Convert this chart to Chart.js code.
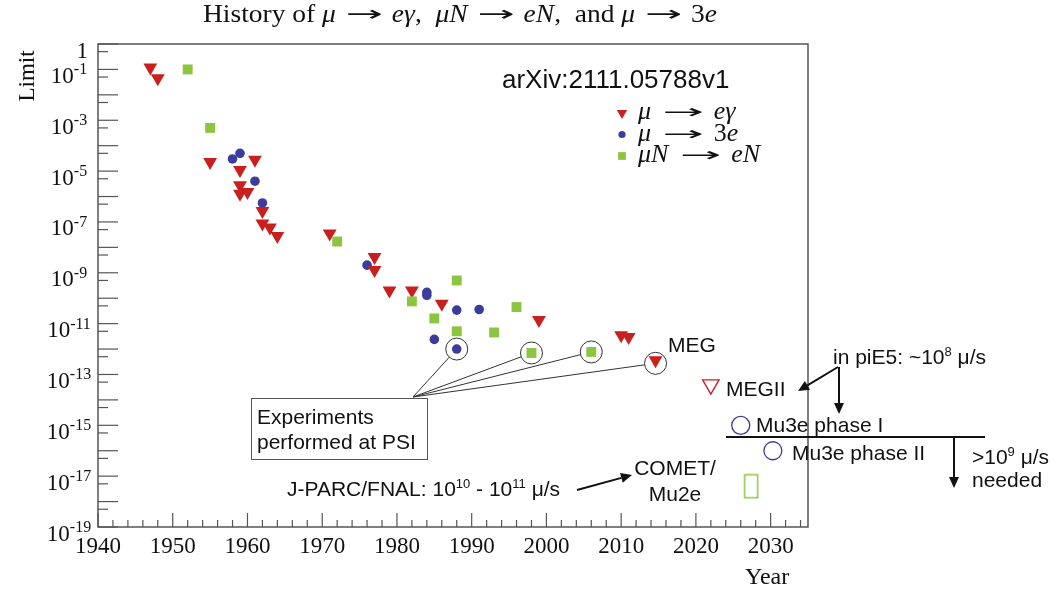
<!DOCTYPE html>
<html lang="en">
<head>
<meta charset="UTF-8">
<title>History of CLFV limits</title>
<style>
  html, body { margin: 0; padding: 0; background: #fff; }
  #wrap { width: 1054px; height: 591px; position: relative; }
</style>
</head>
<body>
<div id="wrap"><canvas id="chart"></canvas></div>

<script src="https://cdn.jsdelivr.net/npm/chart.js"></script>
<script>
// values: year and upper limit
const megYears  = [1947, 1948, 1955, 1959, 1961, 1959, 1959, 1960, 1962, 1962, 1963, 1964, 1971, 1977, 1977, 1979, 1982, 1986, 1999, 2010, 2011, 2014.6];
const megLimits = [0.12, 0.045, 2.3e-5, 1.1e-5, 2.8e-5, 2.8e-6, 1.3e-6, 1.5e-6, 2.7e-7, 8.7e-8, 6e-8, 2.8e-8, 3.5e-8, 4.2e-9, 1.3e-9, 2e-10, 2e-10, 6e-11, 1.4e-11, 3.5e-12, 3e-12, 3.6e-13];

const m3eYears  = [1958, 1959, 1961, 1962, 1976, 1984, 1984, 1985, 1988, 1991, 1988];
const m3eLimits = [3e-5, 5e-5, 4e-6, 5.6e-7, 2e-9, 1.7e-10, 1.3e-10, 2.4e-12, 3.4e-11, 3.6e-11, 1e-12];

const convYears  = [1952, 1955, 1972, 1982, 1985, 1988, 1988, 1993, 1996, 1998, 2006];
const convLimits = [0.1, 5e-4, 1.7e-8, 7.5e-11, 1.6e-11, 5e-10, 5e-12, 4.5e-12, 4.5e-11, 7e-13, 7.7e-13];

// projected sensitivities
const megiiYears = [2022],         megiiLimits = [4e-14];
const mu3eYears  = [2026, 2030.3], mu3eLimits  = [1e-15, 1e-16];
const cometYears = [2027.4],       cometLimits = [4e-18];

// PSI results that get a circle: [dataset, point]
const psiPoints = [[1, 10], [2, 9], [2, 10], [0, 21]];

const xTickYears = [1940, 1950, 1960, 1970, 1980, 1990, 2000, 2010, 2020, 2030];
const yTickExps  = [0, -1, -3, -5, -7, -9, -11, -13, -15, -17, -19];

const RED = '#c8201f', BLUE = '#3c3c9c', GREEN = '#8cc540';
const SANS = '"Liberation Sans", Arial, sans-serif';
const SERIF = '"Liberation Serif", "Times New Roman", serif';
const ARROW = '"DejaVu Sans", sans-serif';

const pts = (xs, ys) => xs.map((x, i) => ({ x: x, y: ys[i] }));

// tall open rectangle for COMET/Mu2e
const cometMark = document.createElement('canvas');
cometMark.width = 16; cometMark.height = 26;
const cm = cometMark.getContext('2d');
cm.strokeStyle = GREEN; cm.lineWidth = 1.5;
cm.strokeRect(1.5, 1.5, 13, 23);

// text made of pieces: [text, font, dy, stretch]
function partW(ctx, p) {
  ctx.font = p[1];
  return ctx.measureText(p[0]).width * (p[3] || 1);
}
function rich(ctx, parts, x, y, align) {
  let w = 0;
  parts.forEach(p => { w += partW(ctx, p); });
  let cx = align === 'right' ? x - w : align === 'center' ? x - w / 2 : x;
  ctx.textAlign = 'left';
  ctx.textBaseline = 'alphabetic';
  parts.forEach(p => {
    const pw = partW(ctx, p);
    ctx.save();
    ctx.translate(cx, y + (p[2] || 0));
    ctx.scale(p[3] || 1, 1);
    ctx.fillText(p[0], 0, 0);
    ctx.restore();
    cx += pw;
  });
  return w;
}
// math arrow " → " with TeX-like width
function mathArrow(size, gap, len) {
  return [[' ', size + 'px ' + SERIF, 0, gap], ['→', (size - 3) + 'px ' + ARROW, -1, len], [' ', size + 'px ' + SERIF, 0, gap * 0.85]];
}

function line(ctx, x1, y1, x2, y2) {
  ctx.beginPath(); ctx.moveTo(x1, y1); ctx.lineTo(x2, y2); ctx.stroke();
}

function arrow(ctx, x1, y1, x2, y2) {
  const ang = Math.atan2(y2 - y1, x2 - x1), hl = 11, hw = 5;
  const bx = x2 - Math.cos(ang) * hl, by = y2 - Math.sin(ang) * hl;
  ctx.lineWidth = 2;
  line(ctx, x1, y1, bx, by);
  ctx.beginPath();
  ctx.moveTo(x2, y2);
  ctx.lineTo(bx + Math.sin(ang) * hw, by - Math.cos(ang) * hw);
  ctx.lineTo(bx - Math.sin(ang) * hw, by + Math.cos(ang) * hw);
  ctx.closePath();
  ctx.fill();
}

const decor = {
  id: 'decor',
  beforeDatasetsDraw(chart) {
    const { ctx, chartArea: a } = chart;
    const xs = chart.scales.x, ys = chart.scales.y;
    ctx.save();
    ctx.strokeStyle = '#555';
    ctx.lineWidth = 1.5;
    ctx.strokeRect(a.left, a.top, a.right - a.left, a.bottom - a.top);

    // y ticks, inside the frame
    ctx.lineWidth = 1.2;
    for (let e = 0; e >= -19; e--) {
      const py = ys.getPixelForValue(Number('1e' + e));
      line(ctx, a.left, py, a.left + 20, py);
      if (e > -19) {
        const q = ys.getPixelForValue(5 * Number('1e' + (e - 1)));
        line(ctx, a.left, q, a.left + 10, q);
      }
    }
    // x ticks
    for (let yr = 1940; yr <= 2034; yr += 2) {
      const px = xs.getPixelForValue(yr);
      line(ctx, px, a.bottom, px, a.bottom - (yr % 10 === 0 ? 14 : 7));
    }

    ctx.fillStyle = '#111';
    yTickExps.forEach(e => {
      const py = ys.getPixelForValue(Number('1e' + e));
      if (e === 0) rich(ctx, [['1', '23px ' + SERIF]], 88, py + 13.5, 'right');
      else rich(ctx, [['10', '23px ' + SERIF], [String(e), '16px ' + SERIF, -8.5]], 69, py + 13.5, 'center');
    });
    ctx.font = '23px ' + SERIF;
    ctx.textAlign = 'center';
    xTickYears.forEach(yr => ctx.fillText(String(yr), xs.getPixelForValue(yr), 553));

    // axis titles
    ctx.font = '24px ' + SERIF;
    ctx.textAlign = 'left';
    ctx.fillText('Year', 745, 584);
    ctx.save();
    ctx.translate(34, 76);
    ctx.rotate(-Math.PI / 2);
    ctx.textAlign = 'center';
    ctx.font = '23px ' + SERIF;
    ctx.fillText('Limit', 0, 0);
    ctx.restore();

    // title, squeezed like the LaTeX original
    const it = 'italic 26px ' + SERIF, rm = '26px ' + SERIF;
    const title = [['History of ', rm], ['μ', it], ...mathArrow(24, 1.6, 2), ['eγ', it], [',  ', rm], ['μN', it], ...mathArrow(24, 1.6, 2),
                   ['eN', it], [',  and ', rm], ['μ', it], ...mathArrow(24, 1.6, 2), ['3', rm], ['e', it]];
    let tw = 0;
    title.forEach(p => { tw += partW(ctx, p); });
    ctx.save();
    ctx.translate(460, 22);
    ctx.scale(514 / tw, 1);
    rich(ctx, title, 0, 0, 'center');
    ctx.restore();
    ctx.restore();
  },
  afterDatasetsDraw(chart) {
    const ctx = chart.ctx;
    ctx.save();

    // circles around PSI results and lines to the box
    const ax = 413, ay = 397;
    ctx.strokeStyle = '#333';
    ctx.lineWidth = 1;
    psiPoints.forEach(([d, i]) => {
      const el = chart.getDatasetMeta(d).data[i];
      const cy = el.y + (d === 0 ? 3 : 0);
      ctx.beginPath(); ctx.arc(el.x, cy, 11, 0, Math.PI * 2); ctx.stroke();
      const dx = ax - el.x, dy = ay - cy, n = Math.hypot(dx, dy);
      line(ctx, el.x + dx / n * 11, cy + dy / n * 11, ax, ay);
    });
    ctx.fillStyle = '#fff';
    ctx.strokeStyle = '#555';
    ctx.fillRect(251, 398, 176, 61);
    ctx.strokeRect(251.5, 398.5, 176, 61);

    const f = '21px ' + SANS, fs = '13px ' + SANS;
    ctx.fillStyle = '#111';
    rich(ctx, [['Experiments', f]], 257, 424, 'left');
    rich(ctx, [['performed at PSI', f]], 257, 449, 'left');
    rich(ctx, [['MEG', f]], 668, 352, 'left');
    rich(ctx, [['MEGII', f]], 726, 396, 'left');
    rich(ctx, [['in piE5: ~10', f], ['8', fs, -8], [' μ/s', f]], 833, 364, 'left');
    rich(ctx, [['Mu3e phase I', f]], 756, 432, 'left');
    rich(ctx, [['Mu3e phase II', f]], 792, 460, 'left');
    rich(ctx, [['>10', f], ['9', fs, -8], [' μ/s', f]], 972, 464, 'left');
    rich(ctx, [['needed', f]], 972, 487, 'left');
    rich(ctx, [['COMET/', f]], 675, 475, 'center');
    rich(ctx, [['Mu2e', f]], 675, 501, 'center');
    rich(ctx, [['J-PARC/FNAL: 10', f], ['10', fs, -8], [' - 10', f], ['11', fs, -8], [' μ/s', f]], 287, 496, 'left');
    rich(ctx, [['arXiv:2111.05788v1', '26px ' + SANS]], 502, 88, 'left');

    ctx.strokeStyle = '#111';
    ctx.lineWidth = 2;
    line(ctx, 726, 437, 985, 437);
    arrow(ctx, 954, 437, 954, 488);
    arrow(ctx, 838, 367, 798, 391);
    arrow(ctx, 839, 367, 839, 414);
    arrow(ctx, 577, 490, 632, 475);

    // legend
    const li = 'italic 26px ' + SERIF, lr = '26px ' + SERIF;
    const lg = [
      [RED, { pointStyle: 'triangle', rotation: 180, radius: 6, borderWidth: 0 },
        [['μ', li], ...mathArrow(22, 2.1, 2.6), ['eγ', li]]],
      [BLUE, { pointStyle: 'circle', rotation: 0, radius: 3.6, borderWidth: 0 },
        [['μ', li], ...mathArrow(22, 2.1, 2.6), ['3', lr], ['e', li]]],
      [GREEN, { pointStyle: 'rect', rotation: 0, radius: 5.5, borderWidth: 0 },
        [['μN', li], ...mathArrow(22, 2.1, 2.6), ['eN', li]]]
    ];
    lg.forEach((row, k) => {
      const ry = 113 + k * 21.5;
      ctx.fillStyle = row[0];
      Chart.helpers.drawPoint(ctx, row[1], 622, ry);
      ctx.fillStyle = '#111';
      rich(ctx, row[2], 638, ry + 6, 'left');
    });
    ctx.restore();
  }
};

new Chart(document.getElementById('chart'), {
  type: 'scatter',
  data: {
    datasets: [
      { label: 'μ → eγ', data: pts(megYears, megLimits), pointStyle: 'triangle', rotation: 180,
        pointRadius: 8, backgroundColor: RED, borderColor: RED, pointBorderWidth: 0, order: 1 },
      { label: 'μ → 3e', data: pts(m3eYears, m3eLimits), pointStyle: 'circle',
        pointRadius: 4.8, backgroundColor: BLUE, borderColor: BLUE, pointBorderWidth: 0, order: 2 },
      { label: 'μN → eN', data: pts(convYears, convLimits), pointStyle: 'rect',
        pointRadius: 7, backgroundColor: GREEN, borderColor: GREEN, pointBorderWidth: 0, order: 0 },
      { label: 'MEGII', data: pts(megiiYears, megiiLimits), pointStyle: 'triangle', rotation: 180,
        pointRadius: 9.5, backgroundColor: 'rgba(255,255,255,0)', borderColor: RED, pointBorderWidth: 1.4 },
      { label: 'Mu3e', data: pts(mu3eYears, mu3eLimits), pointStyle: 'circle',
        pointRadius: 9, backgroundColor: 'rgba(255,255,255,0)', borderColor: '#3a3a9a', pointBorderWidth: 1.3 },
      { label: 'COMET/Mu2e', data: pts(cometYears, cometLimits), pointStyle: cometMark,
        backgroundColor: GREEN, borderColor: GREEN }
    ]
  },
  options: {
    responsive: true,
    maintainAspectRatio: false,
    animation: false,
    layout: { padding: { left: 98, top: 44, right: 246, bottom: 64 } },
    scales: {
      x: { type: 'linear', min: 1940, max: 2035, display: false },
      y: { type: 'logarithmic', min: 1e-19, max: 1, display: false }
    },
    plugins: {
      legend: { display: false },
      tooltip: { enabled: false }
    }
  },
  plugins: [decor]
});
</script>
</body>
</html>
